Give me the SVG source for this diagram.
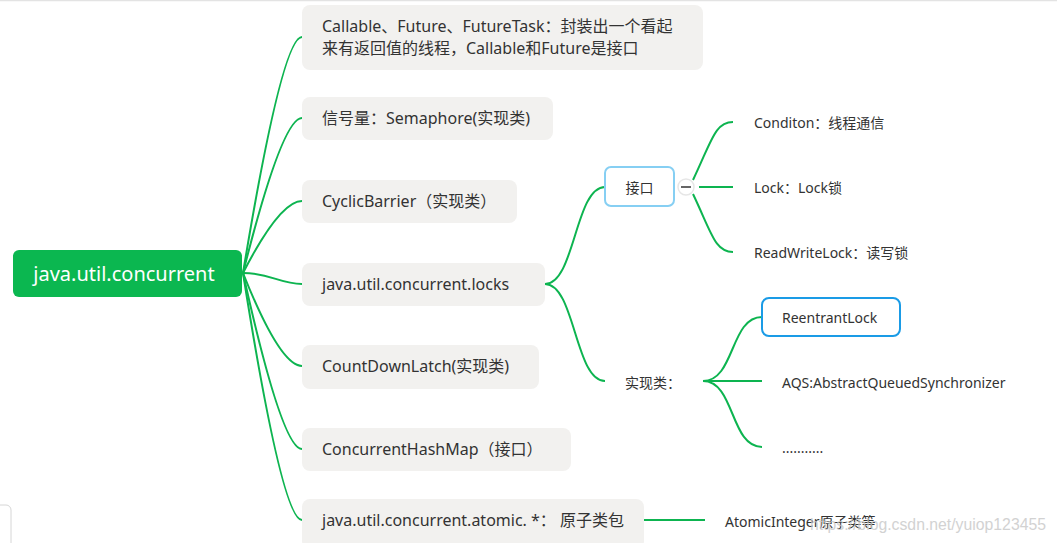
<svg xmlns="http://www.w3.org/2000/svg" width="1057" height="543" viewBox="0 0 1057 543">
<style>
text{font-family:"Noto Sans","Noto Sans CJK SC",sans-serif;fill:#333;dominant-baseline:central}
.box{fill:#f2f1ef}
.t16{font-size:16px}
.t13{font-size:14px}
.c{fill:none;stroke:#0db450;stroke-width:2}
</style>
<rect x="0" y="0" width="1057" height="543" fill="#fff"/>
<line x1="0" y1="0.5" x2="1057" y2="0.5" stroke="#e3e3e3" stroke-width="1.5"/>
<rect x="-10" y="505" width="21" height="45" rx="5" fill="#fff" stroke="#d6d6d6"/>
<g id="connectors">
<path class="c" d="M243,273 Q282,37 302,37"/>
<path class="c" d="M243,273 Q282,118 302,118"/>
<path class="c" d="M243,273 Q280,201 302,201"/>
<path class="c" d="M243,273 C270,273 280,284 302,284"/>
<path class="c" d="M243,273 Q280,366 302,366"/>
<path class="c" d="M243,273 Q282,449 302,449"/>
<path class="c" d="M243,273 Q282,520 302,520"/>
<path class="c" d="M545,284 C575,284 575,187 605,187"/>
<path class="c" d="M545,284 C575,284 575,381 605,381"/>
<path class="c" d="M693,180 C712,140 715,122 733,122"/>
<path class="c" d="M699,187 L733,187"/>
<path class="c" d="M693,194 C712,234 715,252 733,252"/>
<path class="c" d="M703,381 C735,381 730,317 762,317"/>
<path class="c" d="M703,381 L762,381"/>
<path class="c" d="M703,381 C735,381 730,447 762,447"/>
<path class="c" d="M644,520 L705,520"/>
</g>
<g id="root">
<rect x="13" y="250" width="229" height="47" rx="6" fill="#0bb750"/>
<text x="124" y="273.5" text-anchor="middle" style="font-size:20px;fill:#fff">java.util.concurrent</text>
</g>
<g id="n1">
<rect class="box" x="302" y="5" width="401" height="65" rx="8"/>
<text class="t16" x="322" y="26">Callable、Future、FutureTask：封装出一个看起</text>
<text class="t16" x="322" y="48">来有返回值的线程，Callable和Future是接口</text>
</g>
<g id="n2">
<rect class="box" x="302" y="97" width="251" height="43" rx="8"/>
<text class="t16" x="322" y="118">信号量：Semaphore(实现类)</text>
</g>
<g id="n3">
<rect class="box" x="302" y="180" width="215" height="43" rx="8"/>
<text class="t16" x="322" y="201">CyclicBarrier（实现类）</text>
</g>
<g id="n4">
<rect class="box" x="302" y="263" width="243" height="43" rx="8"/>
<text class="t16" x="322" y="284">java.util.concurrent.locks</text>
</g>
<g id="n5">
<rect class="box" x="302" y="345" width="237" height="44" rx="8"/>
<text class="t16" x="322" y="366">CountDownLatch(实现类)</text>
</g>
<g id="n6">
<rect class="box" x="302" y="428" width="269" height="43" rx="8"/>
<text class="t16" x="322" y="449">ConcurrentHashMap（接口）</text>
</g>
<g id="n7">
<rect class="box" x="302" y="499" width="342" height="50" rx="8"/>
<text class="t16" x="322" y="520">java.util.concurrent.atomic. *： 原子类包</text>
</g>
<g id="iface">
<rect x="605" y="167" width="69" height="39" rx="6" fill="#fff" stroke="#86cff3" stroke-width="2"/>
<text class="t13" x="639.5" y="187" text-anchor="middle">接口</text>
<circle cx="686" cy="187" r="8" fill="#fff" stroke="#e6e6e6" stroke-width="1.5"/>
<line x1="681" y1="187" x2="691" y2="187" stroke="#666" stroke-width="2"/>
</g>
<g id="cond"><text class="t13" x="754" y="122">Conditon：线程通信</text></g>
<g id="lock"><text class="t13" x="754" y="187">Lock：Lock锁</text></g>
<g id="rwlock"><text class="t13" x="754" y="252">ReadWriteLock：读写锁</text></g>
<g id="impl"><text class="t13" x="625" y="382">实现类：</text></g>
<g id="reentrant">
<rect x="762" y="298" width="138" height="38" rx="7" fill="#fff" stroke="#1a9be6" stroke-width="2"/>
<text class="t13" x="782" y="317">ReentrantLock</text>
</g>
<g id="aqs"><text class="t13" x="782" y="382">AQS:AbstractQueuedSynchronizer</text></g>
<g id="dots"><text class="t13" x="782" y="447">...........</text></g>
<g id="atomicint"><text class="t13" x="725" y="521">AtomicInteger原子类等</text></g>
<text x="810" y="524" textLength="236" lengthAdjust="spacingAndGlyphs" style="font-family:'Liberation Sans',sans-serif;font-size:16px;fill:#c8c8c8;opacity:0.8">https://blog.csdn.net/yuiop123455</text>
</svg>
